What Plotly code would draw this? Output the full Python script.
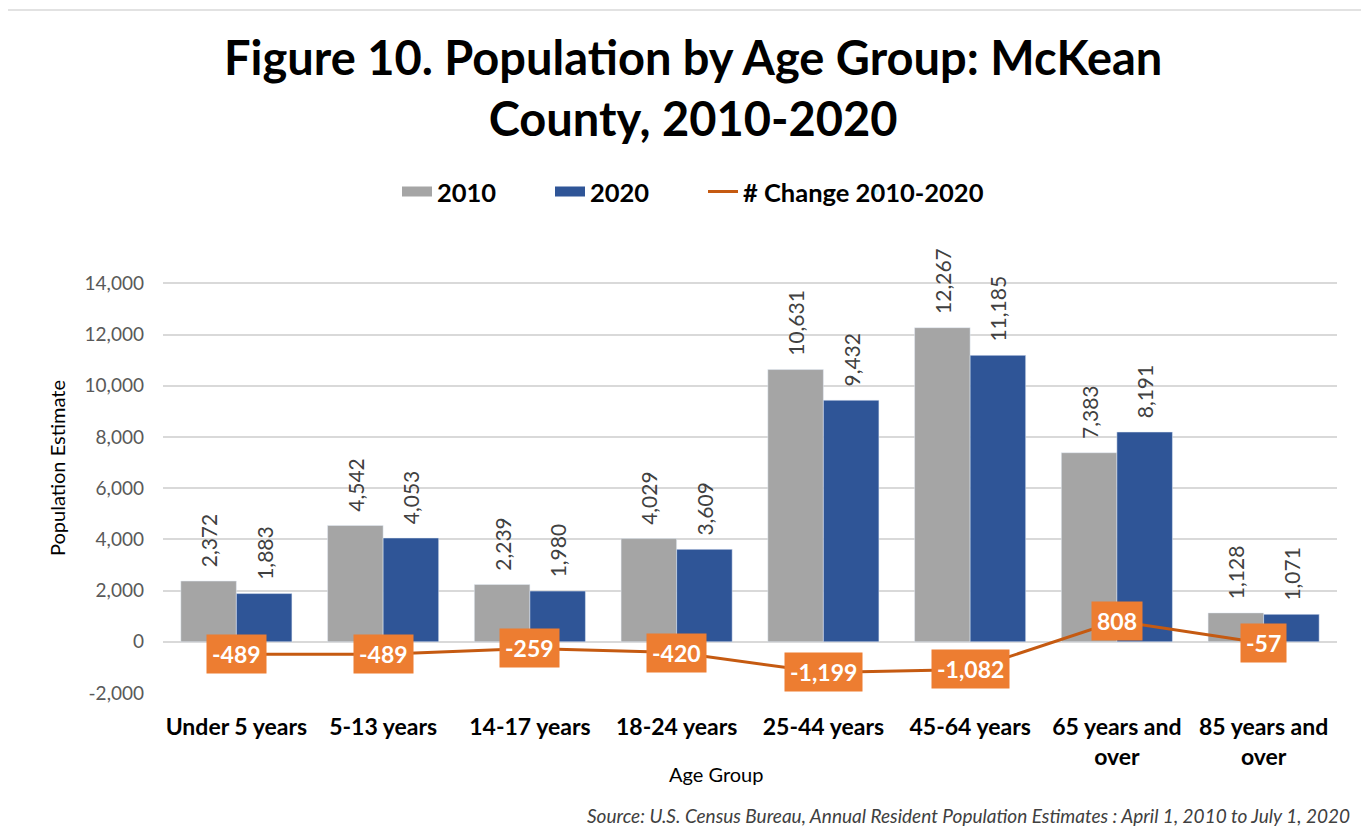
import plotly.graph_objects as go

categories = ["Under 5 years", "5-13 years", "14-17 years", "18-24 years",
              "25-44 years", "45-64 years", "65 years and<br>over", "85 years and<br>over"]
pop_2010 = [2372, 4542, 2239, 4029, 10631, 12267, 7383, 1128]
pop_2020 = [1883, 4053, 1980, 3609, 9432, 11185, 8191, 1071]
change = [-489, -489, -259, -420, -1199, -1082, 808, -57]
y_ticks = [-2000, 0, 2000, 4000, 6000, 8000, 10000, 12000, 14000]

FONT = "Lato"
GRAY, BLUE, ORANGE_LINE, ORANGE_BOX = "#A5A5A5", "#2F5597", "#C55A11", "#ED7D31"
OFF = 8  # page body margin
W, H = 1369 - OFF, 837 - OFF
L, T = 163 - OFF, 250 - OFF
R = W - (1337 - OFF)
B = H - (693 - OFF)
pw, ph = W - L - R, H - T - B


def px_x(xr):
    return (xr - OFF - L) / pw


def px_y(yr):
    return (H - B - (yr - OFF)) / ph


NB = "\u00a0"

fig = go.Figure()
fig.add_trace(go.Bar(
    x=categories, y=pop_2010, name="2010", marker_color=GRAY, showlegend=False,
    texttemplate=NB * 2 + "%{y:,}", textposition="outside", textangle=-90,
    constraintext="none",
    textfont=dict(size=21, color="#404040", family=FONT), cliponaxis=False,
))
fig.add_trace(go.Bar(
    x=categories, y=pop_2020, name="2020", marker_color=BLUE, showlegend=False,
    texttemplate=NB * 2 + "%{y:,}", textposition="outside", textangle=-90,
    constraintext="none",
    textfont=dict(size=21, color="#404040", family=FONT), cliponaxis=False,
))
# legend entries for the bars (wide rectangular swatches)
fig.add_trace(go.Scatter(
    x=[categories[0]], y=[None], name="<b>2010</b>", mode="lines",
    line=dict(color=GRAY, width=14), hoverinfo="skip",
))
fig.add_trace(go.Scatter(
    x=[categories[0]], y=[None], name="<b>2020</b>", mode="lines",
    line=dict(color=BLUE, width=14), hoverinfo="skip",
))
fig.add_trace(go.Scatter(
    x=categories, y=change, name="<b># Change 2010-2020</b>", mode="lines",
    line=dict(color=ORANGE_LINE, width=3), cliponaxis=False,
))
# spacer legend entry so the last real entry is not clipped
fig.add_trace(go.Scatter(
    x=[categories[0]], y=[None], name=" ", mode="markers",
    marker=dict(opacity=0), hoverinfo="skip",
))

for c, v in zip(categories, change):
    fig.add_annotation(
        x=c, y=v, xref="x", yref="y", text=f"<b>{v:,}</b>", showarrow=False,
        font=dict(size=23, color="white", family=FONT),
        bgcolor=ORANGE_BOX, borderpad=5, xanchor="center", yanchor="middle",
    )

fig.add_annotation(
    x=px_x(693), y=px_y(27), xref="paper", yref="paper", showarrow=False,
    text="<b>Figure 10. Population by Age Group: McKean<br>County, 2010-2020</b>",
    font=dict(size=47, color="black", family=FONT), yanchor="top", xanchor="center",
)
fig.add_annotation(
    x=px_x(716), y=px_y(774), xref="paper", yref="paper", showarrow=False,
    text="Age Group", font=dict(size=20, color="black", family=FONT),
    xanchor="center", yanchor="middle",
)
fig.add_annotation(
    x=px_x(57), y=px_y(468), xref="paper", yref="paper", showarrow=False,
    text="Population Estimate", textangle=-90,
    font=dict(size=20, color="black", family=FONT),
    xanchor="center", yanchor="middle",
)
fig.add_annotation(
    x=px_x(1352), y=px_y(815), xref="paper", yref="paper", showarrow=False,
    text="<i>Source: U.S. Census Bureau, Annual Resident Population Estimates : April 1, 2010 to July 1, 2020</i>",
    font=dict(size=19, color="#404040", family=FONT),
    xanchor="right", yanchor="middle",
)

fig.add_shape(
    type="rect", xref="paper", yref="paper",
    x0=px_x(3), x1=px_x(1364), y0=px_y(860), y1=px_y(10),
    line=dict(color="#D9D9D9", width=1.5), fillcolor="rgba(0,0,0,0)", layer="below",
)

fig.update_layout(
    width=W, height=H,
    margin=dict(l=L, r=R, t=T, b=B),
    paper_bgcolor="white", plot_bgcolor="white",
    barmode="group", bargap=0.243, bargroupgap=0,
    font=dict(family=FONT),
    showlegend=True,
    legend=dict(
        orientation="h", xref="container", yref="container",
        x=(397 - OFF) / W, xanchor="left", y=1 - (192 - OFF) / H, yanchor="middle",
        font=dict(size=25.5, color="black", family=FONT),
        entrywidth=108, entrywidthmode="pixels", traceorder="normal",
        bgcolor="rgba(0,0,0,0)",
    ),
    xaxis=dict(
        tickfont=dict(size=23, color="black", family=FONT),
        showgrid=False, showline=False, ticks="",
        ticklabelstandoff=18,
        tickvals=categories,
        ticktext=[f"<b>{c}</b>" for c in categories],
    ),
    yaxis=dict(
        range=[-2000, 15300], tickvals=y_ticks,
        ticktext=[f"{v:,}" for v in y_ticks],
        tickfont=dict(size=19, color="#595959", family=FONT),
        showgrid=True, gridcolor="#D9D9D9", gridwidth=1.5,
        zeroline=True, zerolinecolor="#D9D9D9", zerolinewidth=1.5,
        showline=False, ticks="", ticklabelstandoff=18,
    ),
)

fig.write_html("out.html")
